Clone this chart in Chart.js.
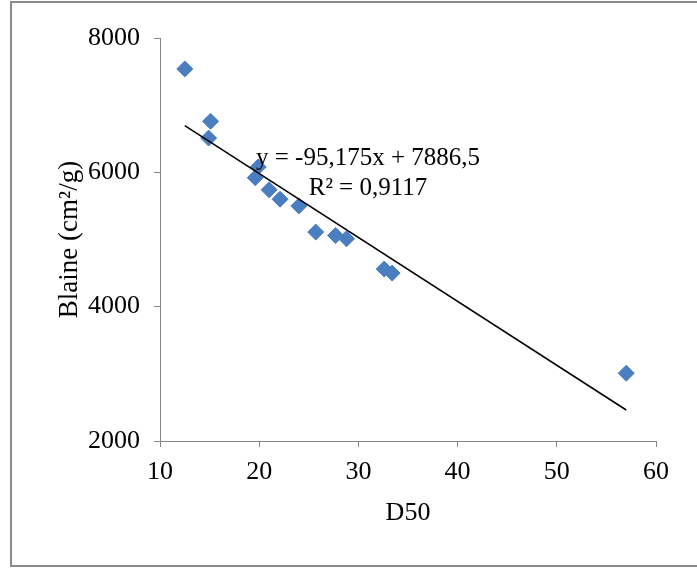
<!DOCTYPE html>
<html>
<head>
<meta charset="utf-8">
<title>Blaine vs D50</title>
<script src="https://cdn.jsdelivr.net/npm/chart.js@4.4.1/dist/chart.umd.min.js"></script>
<style>
  html, body { margin:0; padding:0; background:#fff; }
  #wrap { position:relative; width:697px; height:570px; overflow:hidden; }
  #frame { position:absolute; left:10px; top:1px; width:700px; height:566px; border:2px solid #8a8a8a; box-sizing:border-box; }
  #chart { position:absolute; left:0; top:0; }
</style>
</head>
<body>
<div id="wrap">
  <div id="frame"></div>
  <canvas id="chart" width="697" height="570"></canvas>
</div>
<script>
/* ===== BLAINE x D50 — scatter + linear trendline ===== */
const d50    = [12.5, 15.1, 14.9, 19.9, 19.6, 21.0, 22.1, 24.0, 25.7, 27.7, 28.8, 32.6, 33.4, 57.0];
const blaine = [7540, 6760, 6510, 6080, 5920, 5740, 5600, 5500, 5110, 5060, 5010, 4560, 4500, 3010];

// trendline coefficients (y = slope*x + intercept)
const slope = -95.175;
const intercept = 7886.5;
const r2 = 0.9117;

const xTicks = [10, 20, 30, 40, 50, 60];
const yTicks = [2000, 4000, 6000, 8000];

const SERIF = '"Liberation Serif", "Times New Roman", serif';
const AXIS = '#868686';
const BLUE = '#4a7ebf';

const comma = n => String(n).replace('.', ',');
const eqText = `y = ${comma(slope)}x + ${comma(intercept)}`;
const r2Text = `R² = ${comma(r2)}`;

const xMin = Math.min(...d50), xMax = Math.max(...d50);
const trend = [xMin, xMax].map(x => ({ x, y: slope * x + intercept }));

const equationLabel = {
  id: 'equationLabel',
  afterDatasetsDraw(chart) {
    const ctx = chart.ctx;
    ctx.save();
    ctx.fillStyle = '#000';
    ctx.font = '25px ' + SERIF;
    ctx.textAlign = 'center';
    ctx.textBaseline = 'alphabetic';
    ctx.fillText(eqText, 368, 165);
    ctx.fillText(r2Text, 368, 195);
    ctx.restore();
  }
};

new Chart(document.getElementById('chart'), {
  type: 'scatter',
  data: {
    datasets: [
      { data: d50.map((x, i) => ({ x, y: blaine[i] })), pointStyle: 'rectRot', pointRadius: 8, pointHoverRadius: 8,
        backgroundColor: BLUE, borderColor: BLUE, borderWidth: 1, order: 2 },
      { type: 'line', data: trend, borderColor: '#000', borderWidth: 1.5, pointRadius: 0, fill: false, order: 1 }
    ]
  },
  options: {
    responsive: false, animation: false, devicePixelRatio: 1,
    layout: { padding: { left: 0, top: 38, right: 41, bottom: 0 } },
    plugins: { legend: { display: false }, tooltip: { enabled: false } },
    scales: {
      x: {
        type: 'linear', min: 10, max: 60,
        afterBuildTicks: s => { s.ticks = xTicks.map(v => ({ value: v })); },
        afterFit: s => { s.height = 129; },
        ticks: { color: '#000', padding: 10, font: { family: SERIF, size: 26 }, callback: v => String(v) },
        grid: { drawOnChartArea: false, drawTicks: true, tickLength: 6, color: AXIS },
        border: { display: true, color: AXIS, width: 1 },
        title: { display: true, text: 'D50', color: '#000', font: { family: SERIF, size: 26 }, padding: { top: 0, bottom: 41 } }
      },
      y: {
        type: 'linear', min: 2000, max: 8000,
        afterBuildTicks: s => { s.ticks = yTicks.map(v => ({ value: v })); },
        afterFit: s => { s.width = 160; },
        ticks: { color: '#000', padding: 14, font: { family: SERIF, size: 26 }, callback: v => String(v) },
        grid: { drawOnChartArea: false, drawTicks: true, tickLength: 6, color: AXIS },
        border: { display: true, color: AXIS, width: 1 },
        title: { display: true, text: 'Blaine (cm²/g)', color: '#000', font: { family: SERIF, size: 27 }, padding: { top: 54, bottom: 0 } }
      }
    }
  },
  plugins: [equationLabel]
});
</script>
</body>
</html>
